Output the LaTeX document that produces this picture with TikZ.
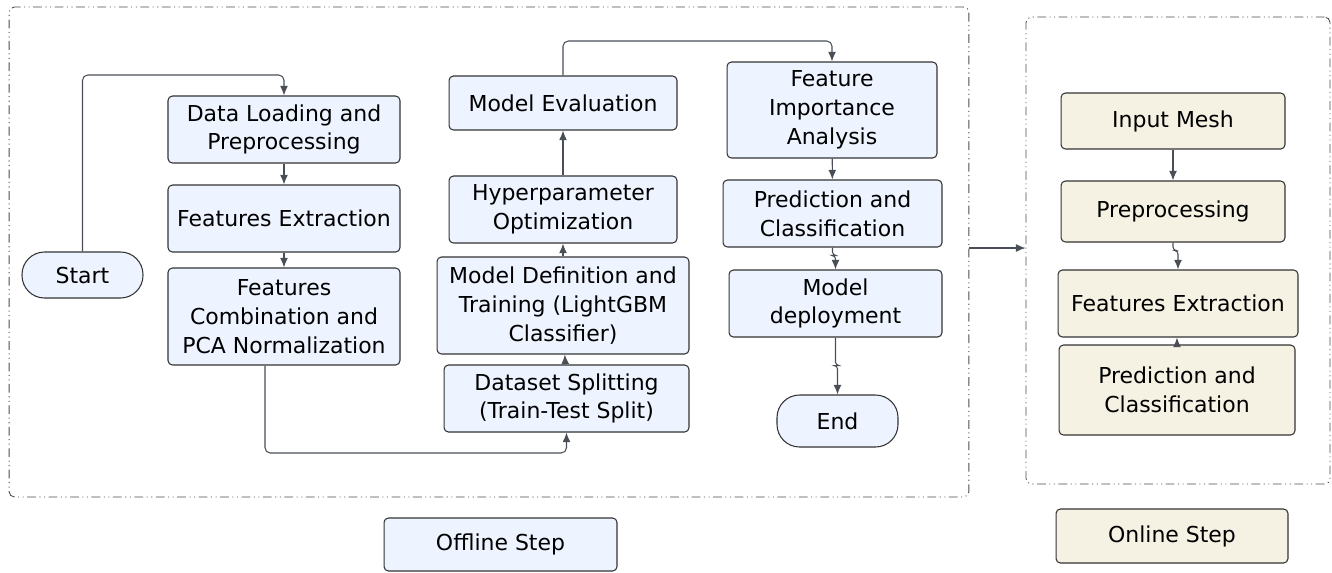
\documentclass[tikz,border=0pt]{standalone}
\usepackage{fontspec}
\setmainfont{DejaVu Sans}
\usetikzlibrary{positioning,arrows.meta,calc}
\definecolor{offfill}{RGB}{237,244,255}
\definecolor{onfill}{RGB}{245,242,228}
\definecolor{linegray}{RGB}{74,79,87}

\begin{document}
\begin{tikzpicture}[x=0.02cm,y=-0.02cm,->,>={Latex[length=5.5pt,width=4.5pt]},draw=linegray,line width=0.6pt,
  every node/.style={draw=black!80,rounded corners=2.5pt,align=center,inner sep=0pt,font=\fontsize{12.5}{16.4}\selectfont},
  box/.style 2 args={minimum width=#1cm,minimum height=#2cm},
  off/.style={fill=offfill},
  on/.style={fill=onfill},
  term/.style={fill=offfill,rounded corners=0.45cm},
  frame/.style={draw=black!70,line width=0.5pt,rounded corners=3pt,dash pattern=on 5pt off 2pt on 0.6pt off 2pt on 0.6pt off 2pt}]
\useasboundingbox (0,0) rectangle (1332,572);

% frames
\node[frame,box={19.2}{9.8}] (offl) at (489,252) {};
\node[frame,box={6.08}{9.34}] (onl) at (1178,250.5) {};

% offline step
\node[term,box={2.42}{0.92}] (start) at (82.5,275) {Start};
\node[off,box={4.64}{1.34}] (load) at (284,129.5) {Data Loading and\\Preprocessing};
\node[off,box={4.64}{1.34}] (fext) at (284,218.5) {Features Extraction};
\node[off,box={4.64}{1.94}] (fcomb) at (284,316.5) {Features\\Combination and\\PCA Normalization};
\node[off,box={4.9}{1.34}] (split) at (566.5,398.5) {Dataset Splitting\\(Train-Test Split)};
\node[off,box={5.04}{1.94}] (train) at (563,305.5) {Model Definition and\\Training (LightGBM\\Classifier)};
\node[off,box={4.56}{1.34}] (hyper) at (563,209.5) {Hyperparameter\\Optimization};
\node[off,box={4.56}{1.08}] (eval) at (563,103) {Model Evaluation};
\node[off,box={4.2}{1.92}] (fimp) at (832,110) {Feature\\Importance\\Analysis};
\node[off,box={4.38}{1.34}] (pred) at (832.5,213.5) {Prediction and\\Classification};
\node[off,box={4.26}{1.34}] (deploy) at (835.5,303.5) {Model\\deployment};
\node[term,box={2.42}{1.04}] (end) at (837.5,421) {End};
\node[off,box={4.66}{1.06}] (offlab) at (500.5,544.5) {Offline Step};

% online step
\node[on,box={4.48}{1.12}] (imesh) at (1173,121) {Input Mesh};
\node[on,box={4.48}{1.22}] (prep) at (1173,211.5) {Preprocessing};
\node[on,box={4.8}{1.34}] (ofext) at (1178,303.5) {Features Extraction};
\node[on,box={4.72}{1.8}] (opred) at (1177,390) {Prediction and\\Classification};
\node[on,box={4.64}{1.08}] (onlab) at (1172,536) {Online Step};

\draw[rounded corners=3pt] (start.north) |- (load.north |- 0,75) -- (load.north);
\draw (load) -- (fext);
\draw (fext) -- (fcomb);
\draw[rounded corners=3pt] ([xshift=-0.38cm]fcomb.south) |- (split.south |- 0,453) -- (split.south);
\draw (split) -- (train);
\draw (train) -- (hyper);
\draw (hyper) -- (eval);
\draw[rounded corners=3pt] (eval.north) |- (fimp.north |- 0,41) -- (fimp.north);
\draw (fimp) -- (pred);
\draw[rounded corners=2pt] (pred.south) -- ++(0,8) -| (deploy.north);
\draw[rounded corners=2pt] (deploy.south) -- ++(0,28) -| (end.north);
\draw (offl.east |- 0,248) -- (onl.west |- 0,248);
\draw (imesh) -- (prep);
\draw[rounded corners=2pt] (prep.south) -- ++(0,8) -| (ofext.north);
\draw (opred.north) -- (opred.north |- ofext.south);
\end{tikzpicture}
\end{document}
